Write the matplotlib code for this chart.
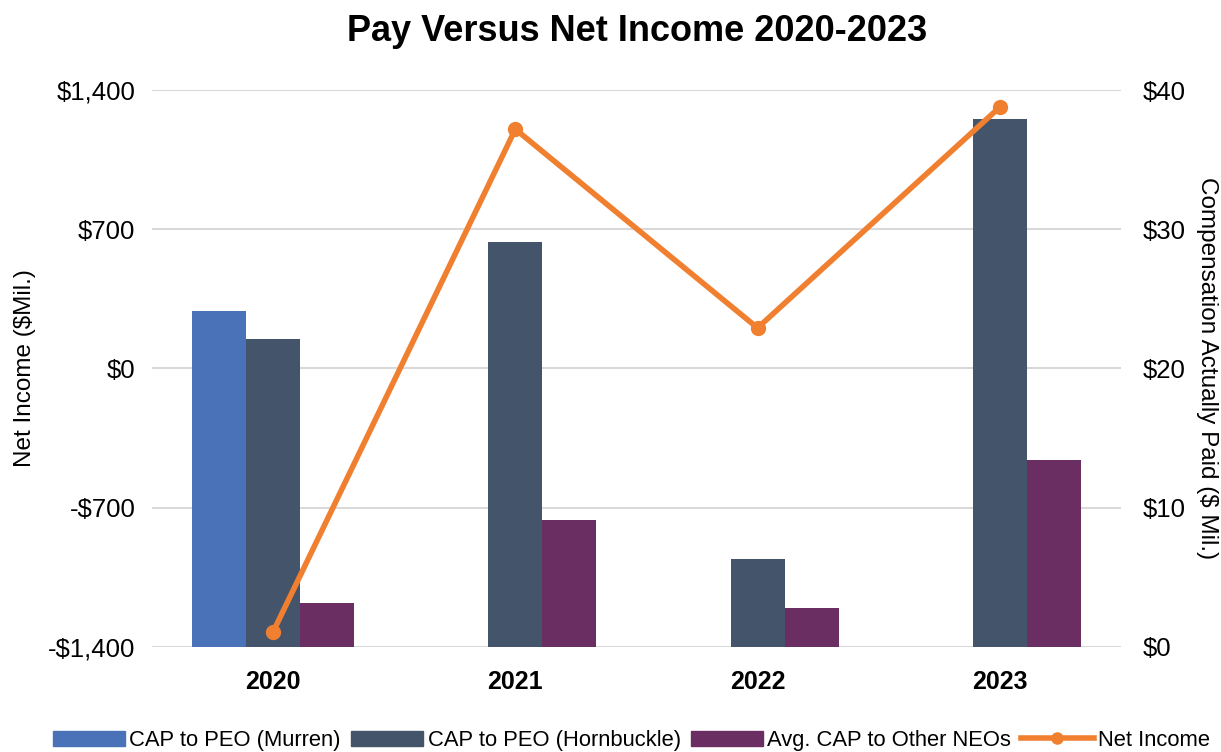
import numpy as np
import matplotlib
matplotlib.use("Agg")
import matplotlib.pyplot as plt
from matplotlib.patches import Patch
from matplotlib.lines import Line2D

plt.rcParams['font.family'] = ['Liberation Sans', 'DejaVu Sans']

years = ["2020", "2021", "2022", "2023"]
cap_murren = [24.1, np.nan, np.nan, np.nan]
cap_hornbuckle = [22.1, 29.1, 6.3, 37.9]
cap_other_neos = [3.15, 9.1, 2.8, 13.4]
net_income = [-1325, 1204, 204, 1315]

c_murren = "#4A72B8"
c_horn = "#44546A"
c_other = "#6B2E63"
c_line = "#F08030"

fig = plt.figure(figsize=(12.21, 7.52), dpi=100)
ax = fig.add_axes([0.1245, 0.140, 0.7935, 0.740])  # bars (CAP, right scale)
ax2 = ax.twinx()                                   # line (net income, left scale)

x = np.arange(len(years))
w = 0.223
ax.bar(x - w, cap_murren, w, color=c_murren, zorder=2)
ax.bar(x, cap_hornbuckle, w, color=c_horn, zorder=2)
ax.bar(x + w, cap_other_neos, w, color=c_other, zorder=2)
ax.set_ylim(0, 40)
ax.set_yticks([0, 10, 20, 30, 40])
ax.set_yticklabels(["$0", "$10", "$20", "$30", "$40"])
ax.yaxis.tick_right()
ax.set_ylabel("Compensation Actually Paid ($ Mil.)", fontsize=17.5, rotation=270,
              ha="center", va="center")
ax.yaxis.set_label_coords(1.0885, 0.5)
ax.grid(axis="y", color="#D9D9D9", linewidth=1.5, zorder=0)
ax.set_axisbelow(True)

ax2.plot(x, net_income, color=c_line, linewidth=4, marker="o", markersize=10,
         zorder=3)
ax2.set_ylim(-1400, 1400)
ax2.set_yticks([-1400, -700, 0, 700, 1400])
ax2.set_yticklabels(["-$1,400", "-$700", "$0", "$700", "$1,400"])
ax2.yaxis.tick_left()
ax2.set_ylabel("Net Income ($Mil.)", fontsize=17.5, rotation=90,
               ha="center", va="center")
ax2.yaxis.set_label_coords(-0.131, 0.5)

ax.set_xlim(-0.5, 3.5)
ax.set_xticks(x)
ax.set_xticklabels(years, fontsize=18, fontweight="bold")

for a in (ax, ax2):
    for s in a.spines.values():
        s.set_visible(False)
    a.tick_params(axis="y", length=0, labelsize=18.5, pad=12)
ax.tick_params(axis="y", pad=16)
ax.tick_params(axis="x", length=0, pad=17)

fig.suptitle("Pay Versus Net Income 2020-2023", fontsize=26, fontweight="bold",
             x=0.522, y=0.982)

handles = [Patch(color=c_murren), Patch(color=c_horn), Patch(color=c_other),
           Line2D([0], [0], color=c_line, linewidth=4, marker="o", markersize=8)]
labels = ["CAP to PEO (Murren)", "CAP to PEO (Hornbuckle)",
          "Avg. CAP to Other NEOs", "Net Income"]
fig.legend(handles, labels, loc="lower center", ncol=4, frameon=False,
           fontsize=15.8, bbox_to_anchor=(0.517, -0.025), handlelength=3.3,
           handletextpad=0.2, columnspacing=0.45)

fig.savefig("out.png", dpi=100)
